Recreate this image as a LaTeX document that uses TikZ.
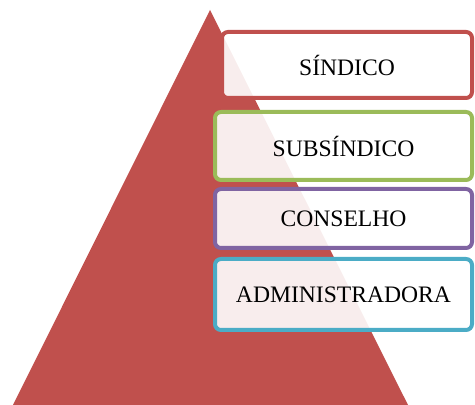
\documentclass[tikz,border=0pt]{standalone}
\usepackage{fontspec}
\setmainfont{Liberation Serif}
\usepackage{tikz}
\usetikzlibrary{positioning}
\definecolor{pyrred}{HTML}{C0504D}
\definecolor{pyrgreen}{HTML}{9BBB59}
\definecolor{pyrpurple}{HTML}{8064A2}
\definecolor{pyrblue}{HTML}{4BACC6}
\tikzset{level/.style={draw, line width=2pt, rounded corners=3pt, fill=white, fill opacity=0.9, text opacity=1,
    minimum width=128.5pt, font=\fontsize{11.8}{14}\selectfont, inner sep=0pt}}

\begin{document}
\begin{tikzpicture}[x=0.5pt,y=0.5pt]
\useasboundingbox (0,0) rectangle (475,405);

\fill[pyrred] (13,0) -- (210,395) -- (408,0) -- cycle;

\node[level, draw=pyrred, minimum width=125pt, minimum height=33pt] (sindico) at (347,340) {S\'INDICO};
\node[level, draw=pyrgreen, minimum height=34pt] (subsindico) at (343.5,259) {SUBS\'INDICO};
\node[level, draw=pyrpurple, minimum height=29.5pt] (conselho) at (343.5,186.5) {CONSELHO};
\node[level, draw=pyrblue, minimum height=35.5pt] (admin) at (343.5,110.5) {ADMINISTRADORA};

\end{tikzpicture}
\end{document}
